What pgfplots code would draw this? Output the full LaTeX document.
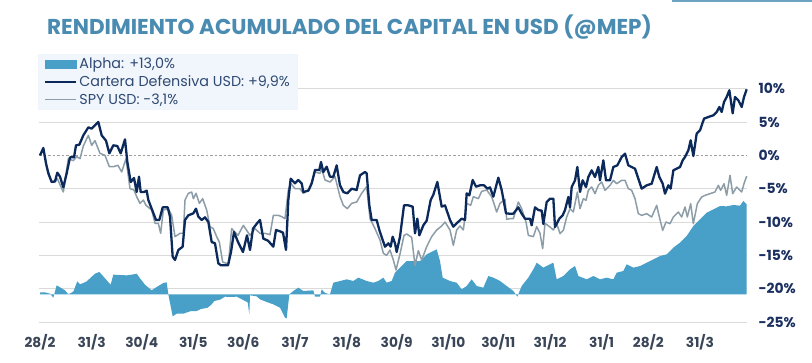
\documentclass[border=0pt]{standalone}
\usepackage{fontspec}
\setmainfont{Poppins}
\usepackage{pgfplots}
\usepackage{pgfplotstable}
\pgfplotsset{compat=1.18}
\definecolor{titlec}{HTML}{4A8BB2}
\definecolor{alphac}{HTML}{48A0C9}
\definecolor{navyc}{HTML}{0B2A5B}
\definecolor{spyc}{HTML}{8C9DA8}
\definecolor{gridc}{HTML}{DADADA}
\definecolor{legbg}{HTML}{F0F6FC}
\definecolor{ytc}{HTML}{1B3060}
\definecolor{xtc}{HTML}{3A4658}

\pgfplotstableread{
d a
0 0
0 0.3
3 0.3
6 0.1
8 -0.5
10 1.35
13 0.9
15 0.6
17 0.0
20 0.4
22.4 1.95
24 1.5
26 1.7
28 1.95
30 2.4
33 3.1
35.6 3.35
37.6 2.8
40.4 2.0
42.4 1.45
44 2.95
48 2.9
52 2.85
55 2.95
58 3.1
60 2.4
63 1.45
67 0.6
70 1.1
74 1.7
76 1.8
77 0
78 -1.3
79.6 -3.3
82 -2.9
86 -2.9
90.6 -2.5
94 -2.5
96.6 -2.2
100.6 -2.0
103 -1.5
104.6 -1.0
108 -0.8
111 -0.35
114 -0.4
118 -0.35
120 -0.6
124.6 -1.2
125.6 -3.0
126 -0.15
130 -0.3
132 -0.75
136 -1.15
140 -1.5
144 -2.0
147 -3.5
148 -3.6
149.6 0
152 0.5
155 1.0
158 0.5
164 0.6
165 -0.35
168 -0.35
169 0.75
171 0.2
174 0
176 1.75
180 2.0
184 2.25
188 2.0
191 2.5
196 2.0
200 1.75
203 2.0
206 2.5
208 1.75
211 2.0
213 3.25
215 3.75
220 5.0
224 5.0
228 5.0
232 6.0
236 6.5
238 6.75
240 5.0
241.6 2.5
246 2.0
250 1.75
253 0.75
256 1.25
259 2.25
262 1.25
266 1.0
269 2.75
272 2.5
276 2.0
280 1.25
284 0.5
286.4 -0.35
289 1.25
293 2.5
296 3.75
298 4.75
302 4.0
308 4.75
310 2.25
314 2.75
318 3.75
321 4.25
323 2.75
328 2.25
332 2.75
336 2.25
340 2.5
344 2.25
346 3.25
350 3.5
352 4.5
356 4.0
360 4.25
366 5.0
372 5.75
376 6.0
380 7.0
384 7.75
388 8.75
392 10.25
396 11.25
400 12.25
404 12.75
408 13.25
412 13.2
416 13.4
420 13.3
422 14.0
424 13.5
424 0
}\alphadata

\pgfplotstableread{
d v
0 0
2 1.1
3.6 -1.2
5 -2.7
7 -4.0
9 -3.9
10.4 -2.6
12 -3.2
14 -4.8
16 -2.7
18 -0.3
20.4 -0.3
21.6 1.5
23.6 1.6
26 3.0
29 4.2
31 4.0
33 4.5
35 5.0
37 3.0
39.6 2.2
41.6 0.3
44 1.5
46.4 1.4
48.4 0.3
51 2.4
52.4 -1.0
54.4 -4.0
56.4 -3.4
58 -5.5
59.4 -3.2
60.4 -5.5
62.4 -5.5
64 -5.3
65 -6.7
67 -8.0
69.6 -9.7
71.6 -9.7
73.6 -7.8
76.6 -7.8
78 -9.2
79.6 -15.2
81 -15.7
83 -14.2
85.6 -13.7
87 -9.7
89 -9.0
92 -8.7
93.6 -8.0
95 -9.2
97 -9.7
99 -9.3
101 -10.0
103 -13.0
105 -13.2
107 -16.2
108.6 -16.5
112.8 -16.5
114.6 -14.5
116.4 -11.5
118.8 -13.0
121.8 -14.5
124.2 -12.0
126 -14.2
127.8 -11.0
130.2 -10.2
132 -9.7
134 -12.5
136.8 -12.8
140 -13.7
141.6 -11.2
144 -11.4
145.8 -11.6
147.6 -14.2
149 -6.7
150.4 -3.5
153 -4.2
155 -3.7
157 -4.2
158 -5.5
161 -5.3
163 -4.2
165 -2.2
167.6 -2.2
168.6 -1.0
170 -2.5
172 -1.7
174 -3.2
176 -3.2
178 -1.5
180 -4.5
182 -5.5
184.4 -5.7
187 -5.0
190 -5.2
192 -3.0
195 -2.5
196 -2.7
197.6 -7.5
199 -9.7
202 -9.7
203.6 -11.2
205.6 -12.7
207 -13.7
209 -13.2
210.4 -13.7
211.6 -12.2
213 -13.2
214 -14.5
216 -12.2
218.4 -7.5
221 -7.5
223.6 -7.7
225 -11.7
226.4 -9.5
227.6 -12.0
230 -10.5
232 -9.8
234.4 -6.7
236 -5.9
238.4 -4.0
241 -7.7
243 -7.5
246 -9.7
248 -10.7
250 -10.2
253 -9.5
255 -9.7
256 -5.7
257.6 -6.0
259.6 -3.7
261.6 -4.7
264 -4.5
266.4 -4.5
268.4 -5.0
270 -4.8
272 -6.2
275 -3.35
277 -5.2
279.6 -8.7
281.6 -8.75
284 -8.75
287 -7.8
289 -8.75
291 -9.5
294 -9.5
295 -10.5
297 -7.8
299 -8.2
301 -8.3
302 -10.3
304 -7.0
306 -6.5
308 -6.5
309 -10.75
311.6 -9.5
313.6 -9.0
315 -8.2
317 -6.25
318 -7.8
319 -4.75
321 -3.75
322.4 -1.75
324 -5.5
325.6 -3.75
327.6 -4.75
329 -3.25
331 -2.25
333 -3.25
335 -1.75
336 -3.75
338 -0.75
339.6 -3.75
342 -3.75
344 -1.75
346.4 -1.5
349 -0.25
351 0.25
353 -1.5
355 -1.75
357 -2.0
359 -3.5
361 -5.0
364 -4.5
367 -4.25
370 -1.75
371.6 -3.25
373.6 -4.25
375 -5.75
377 -4.5
378.4 -5.0
380 -2.25
382 -2.0
384 -1.75
385.6 -0.75
387 -0.25
389 0.75
390.4 2.25
392 -0.1
394 3.25
396 3.75
398.4 5.5
401 5.75
404 6.0
406 6.5
407.6 7.25
409 6.5
410.4 8.0
412 8.75
413.6 9.75
415.6 6.3
417 8.75
419 8.25
421 7.25
422.4 8.75
424 9.9
}\carteradata

\pgfplotstableread{
d v
0 0
2 0.8
4 -1.7
7 -4.0
9 -4.0
10.4 -3.5
14 -5.5
17 -0.5
20 -0.8
22 -0.2
24 -0.5
26 1.4
29 3.0
31 1.5
33 2.2
36 0.3
39 0
41.6 -1.7
44 -1.7
46.8 -1.5
49 -2.5
51.6 -0.5
54 -5.0
56.4 -5.2
58 -6.2
60 -7.2
62 -6.7
63.6 -7.5
67 -8.2
69 -10.2
71 -10.2
72.4 -11.7
74 -8.2
77 -8.0
79 -9.0
81 -12.2
84 -11.7
86 -11.7
87 -6.7
89 -5.7
91 -5.5
92 -6.5
93.6 -5.7
95.6 -7.2
97.6 -6.5
100 -8.2
102 -10.7
104 -11.0
106 -12.2
107.6 -13.0
109.6 -16.0
113 -16.3
115 -11.0
118.8 -12.0
122 -10.5
126 -12.0
129 -11.0
132 -11.7
135 -11.7
138 -11.9
140 -9.0
143 -9.0
145 -9.2
147 -9.5
149 -5.2
150.4 -4.2
153 -5.0
156 -5.0
158 -5.7
162 -5.0
165 -2.5
168 -2.7
169 -2.0
171 -3.7
174 -4.0
177 -3.2
180 -6.2
182 -7.5
184.4 -8.0
187 -7.2
190 -7.0
193 -5.7
196 -4.7
198 -9.5
201 -11.0
204 -12.7
206 -14.7
208 -15.0
210 -14.2
212 -15.7
213.6 -17.2
216 -14.8
218.4 -12.0
220 -11.8
223 -12.3
225 -16.5
227 -14.3
229 -15.7
232 -13.7
235 -12.2
238 -11.2
241 -10.6
243 -10.0
246 -11.2
248 -13.5
250 -11.2
252 -10.6
254 -11.2
256 -7.2
258.4 -7.5
260 -6.2
263 -6.5
265 -5.4
268 -5.2
271 -6.2
274 -8.5
276 -7.2
279 -6.6
280 -9.6
282 -9.5
284 -9.5
287 -7.0
289 -8.0
291.6 -10.0
293 -12.0
296 -12.2
298 -10.7
300 -11.7
301.6 -14.0
303 -10.2
306 -10.75
308 -11.2
310 -10.2
312 -11.75
314 -11.25
316 -9.25
318 -8.0
320 -8.5
322.4 -5.5
324 -8.0
326 -6.5
327.6 -6.75
329 -5.25
331 -4.75
333 -5.75
335 -4.5
337 -4.0
339 -5.25
342 -4.5
344 -3.75
346 -4.25
349 -3.75
351 -3.75
353 -5.0
355 -5.25
357 -6.5
359 -8.75
361 -9.0
364 -8.75
367 -9.25
370 -7.5
371.6 -9.25
373.6 -11.25
375.6 -10.0
378 -10.25
380 -9.25
383 -8.5
385 -9.25
387 -7.75
388.4 -9.25
390.4 -7.25
392 -10.25
394.4 -7.25
397 -6.25
399 -6.0
402 -5.75
405 -5.5
407 -4.5
408.4 -5.25
410.4 -4.25
412 -6.0
414 -3.0
415.6 -5.75
418 -4.75
421 -5.5
422.4 -4.25
424 -3.1
}\spydata

\begin{document}
\begin{tikzpicture}[x=1bp,y=1bp]
\useasboundingbox[fill=white] (0,0) rectangle (812,362);
\node[anchor=west, text=titlec, inner sep=0pt] at (47,335)
  {\fontsize{21.6}{24}\selectfont\bfseries RENDIMIENTO ACUMULADO DEL CAPITAL EN USD (@MEP)};
\fill[titlec!80] (672,360) rectangle (812,362);
\begin{axis}[
  at={(39bp,40bp)}, anchor=south west,
  scale only axis, width=708bp, height=240bp,
  xmin=-0.6, xmax=424.2, ymin=-25, ymax=11,
  axis line style={draw=none},
  major tick length=0pt,
  clip=false,
  /pgf/number format/assume math mode=true,
  xtick={0,31,61,92,122,153,184,214,245,275,306,337,365,396},
  xticklabels={28/2,31/3,30/4,31/5,30/6,31/7,31/8,30/9,31/10,30/11,31/12,31/1,28/2,31/3},
  xticklabel style={font=\fontsize{13.8}{14}\selectfont\bfseries, text=xtc, yshift=-9bp},
  ytick={-25,-20,-15,-10,-5,5,10},
  yticklabels={-25\%,-20\%,-15\%,-10\%,-5\%,5\%,10\%},
  extra y ticks={0},
  extra y tick labels={0\%},
  extra y tick style={grid style={draw=gray!75, line width=0.7bp, dash pattern=on 2.5bp off 2bp}},
  yticklabel pos=right,
  yticklabel style={font=\fontsize{14}{14}\selectfont\bfseries, text=ytc, anchor=west, xshift=8bp},
  ymajorgrids=true,
  grid style={draw=gridc, line width=0.9bp},
  legend style={at={(axis description cs:0,1)}, anchor=north west, yshift=28bp, xshift=-1bp,
    fill=legbg, draw=none, font=\fontsize{14.4}{17}\selectfont, text=navyc!85,
    inner xsep=6bp, inner ysep=2bp, row sep=1.5bp},
  legend cell align=left,
]
\addlegendimage{legend image code/.code={\fill[alphac] (0bp,-4bp) rectangle (31bp,4bp);}}
\addlegendentry{Alpha: +13,0\%}
\addlegendimage{legend image code/.code={\draw[navyc, line width=2.2bp] (0bp,0bp) -- (31bp,0bp);}}
\addlegendentry{Cartera Defensiva USD: +9,9\%}
\addlegendimage{legend image code/.code={\draw[spyc, line width=1.3bp] (0bp,0bp) -- (31bp,0bp);}}
\addlegendentry{SPY USD: -3,1\%}
\addplot[fill=alphac, draw=none, forget plot] table[x=d, y expr=\thisrow{a}-20.85] {\alphadata};
\addplot[spyc, line width=1.5bp, forget plot, line join=round] table[x=d, y=v] {\spydata};
\addplot[navyc, line width=2.3bp, forget plot, line join=round] table[x=d, y=v] {\carteradata};
\end{axis}
\end{tikzpicture}
\end{document}
